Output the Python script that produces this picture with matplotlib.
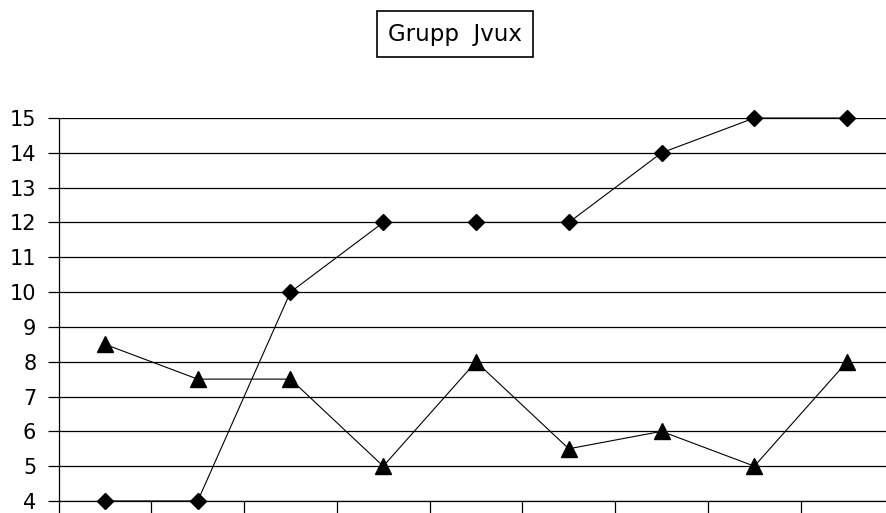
import matplotlib.pyplot as plt
import numpy as np

# data
categories = list(range(9))
diamond_vals = [4, 4, 10, 12, 12, 12, 14, 15, 15]
triangle_vals = [8.5, 7.5, 7.5, 5, 8, 5.5, 6, 5, 8]
title = "Grupp  Jvux"

fig = plt.figure(figsize=(8.86, 5.13), dpi=100)
ax = fig.add_axes([0.0661, 0.0234, 0.934, 0.7466])

x = np.array(categories)
ax.plot(x, diamond_vals, "-", color="black", lw=0.8, marker="D", ms=8,
        clip_on=False, zorder=3)
ax.plot(x, triangle_vals, "-", color="black", lw=0.8, marker="^", ms=11,
        clip_on=False, zorder=3)

ax.set_yticks(range(4, 16))
ax.set_xticks(np.arange(-0.5, 9, 1))
ax.set_xticklabels([])
# limits after ticks so set_xticks does not widen them
ax.set_ylim(4, 15)
ax.set_xlim(-0.5, 8.42)
ax.yaxis.grid(True, color="black", lw=0.9)
ax.set_axisbelow(True)

for s in ["top", "right"]:
    ax.spines[s].set_visible(False)
ax.spines["left"].set_linewidth(0.9)
ax.spines["bottom"].set_linewidth(0.9)
ax.tick_params(axis="y", direction="out", length=8, width=0.9,
               labelsize=15, pad=8)
ax.tick_params(axis="x", direction="out", length=9, width=0.9)

fig.text(0.5135, 0.933, title, ha="center", va="center", fontsize=16.5,
         bbox=dict(boxstyle="square,pad=0.5", facecolor="white",
                   edgecolor="black", lw=1.2))

fig.savefig("out.png", dpi=100)
